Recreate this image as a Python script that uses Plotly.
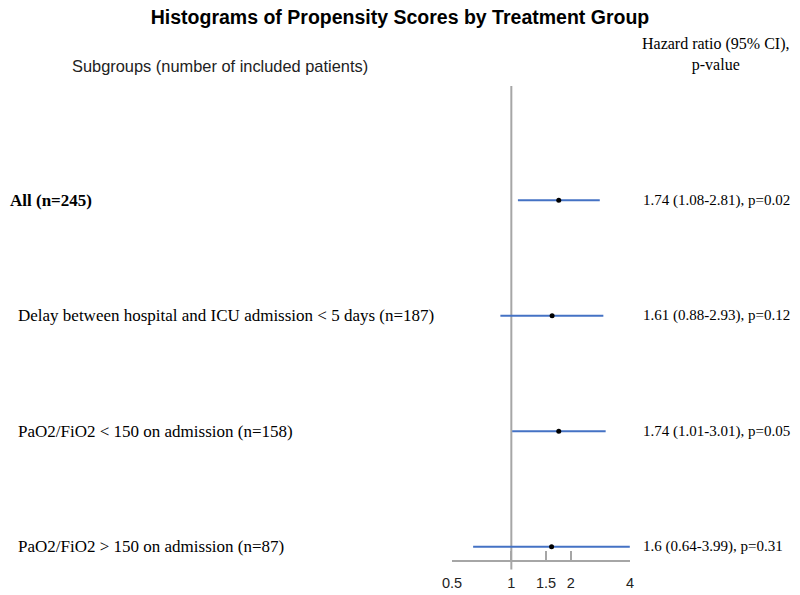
import plotly.graph_objects as go

# subgroup rows, top to bottom
subgroups = [
    "All (n=245)",
    "Delay between hospital and ICU admission < 5 days (n=187)",
    "PaO2/FiO2 < 150 on admission (n=158)",
    "PaO2/FiO2 > 150 on admission (n=87)",
]
hr = [1.74, 1.61, 1.74, 1.6]
ci_low = [1.08, 0.88, 1.01, 0.64]
ci_high = [2.81, 2.93, 3.01, 3.99]
p_values = ["0.02", "0.12", "0.05", "0.31"]

tick_vals = [0.5, 1, 1.5, 2, 4]
tick_text = ["0.5", "1", "1.5", "2", "4"]

rows = list(range(len(subgroups)))

BLUE = "#4472c4"
GREY = "#a6a6a6"
SERIF = "Liberation Serif, Times New Roman, serif"
SANS = "Liberation Sans, Arial, sans-serif"

fig = go.Figure()

# confidence interval lines
for i in rows:
    fig.add_trace(go.Scatter(
        x=[ci_low[i], ci_high[i]], y=[i, i], mode="lines",
        line=dict(color=BLUE, width=2), hoverinfo="skip", showlegend=False))

# point estimates
fig.add_trace(go.Scatter(
    x=hr, y=rows, mode="markers",
    marker=dict(color="black", size=5), showlegend=False))

# line of no effect
fig.add_shape(type="line", xref="x", yref="paper", x0=1, x1=1, y0=-0.02, y1=1,
              line=dict(color=GREY, width=2), layer="below")

# left labels and right-hand HR text
for i in rows:
    bold = i == 0
    fig.add_annotation(
        xref="paper", yref="y", x=0, y=i, xanchor="left", yanchor="middle",
        xshift=-444 if bold else -436, showarrow=False,
        text=f"<b>{subgroups[i]}</b>" if bold else subgroups[i],
        font=dict(family=SERIF, size=17, color="black"))
    lab = f"{hr[i]} ({ci_low[i]}-{ci_high[i]}), p={p_values[i]}"
    fig.add_annotation(
        xref="paper", yref="y", x=1, y=i, xanchor="left", yanchor="middle",
        xshift=11, showarrow=False, text=lab,
        font=dict(family=SERIF, size=15, color="black"))

# column headers
fig.add_annotation(
    xref="paper", yref="paper", x=0, y=1, xanchor="center", yanchor="middle",
    xshift=-232, yshift=20, showarrow=False,
    text="Subgroups (number of included patients)",
    font=dict(family=SANS, size=16.4, color="#222222"))
fig.add_annotation(
    xref="paper", yref="paper", x=1, y=1, xanchor="center", yanchor="middle",
    xshift=86, yshift=32, showarrow=False, align="center",
    text="Hazard ratio (95% CI),<br>p-value",
    font=dict(family=SERIF, size=16, color="black"))

fig.update_layout(
    width=800, height=595,
    margin=dict(l=444, r=178, t=78, b=28),
    paper_bgcolor="white", plot_bgcolor="white",
    title=dict(text="<b>Histograms of Propensity Scores by Treatment Group</b>",
               x=392 / 800, xref="container", xanchor="center",
               y=1 - 2 / 595, yref="container", yanchor="top",
               font=dict(family=SANS, size=19.5, color="black")),
    xaxis=dict(type="log", range=[-0.30103, 0.60206],
               tickvals=tick_vals, ticktext=tick_text,
               ticks="inside", ticklen=9, tickcolor=GREY, tickwidth=1.5,
               ticklabelstandoff=9,
               showline=True, linecolor=GREY, linewidth=1.5,
               showgrid=False, zeroline=False,
               tickfont=dict(family=SANS, size=14.5, color="#222222")),
    yaxis=dict(range=[3.114, -0.989], visible=False, showgrid=False),
)

fig.write_html("out.html", config={"displayModeBar": False})
